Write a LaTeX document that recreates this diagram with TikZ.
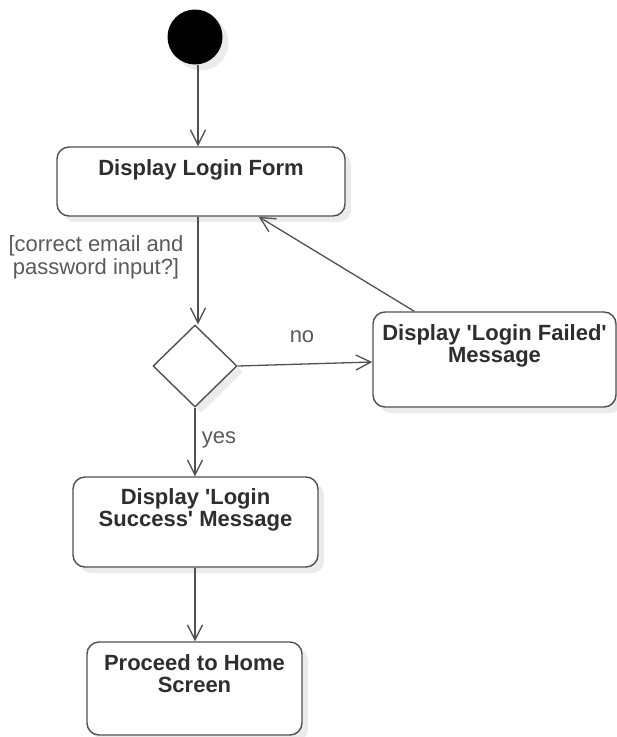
\documentclass[tikz,border=0pt]{standalone}
\usepackage{fontspec}
\setmainfont{Liberation Sans}
\usetikzlibrary{arrows.meta,shapes.geometric,shadows}
\definecolor{edge}{HTML}{505050}
\definecolor{ink}{HTML}{2E2E2E}
\definecolor{note}{HTML}{5A5A5A}
\definecolor{shade}{HTML}{EBEBEB}
\tikzset{
  x=1pt, y=-1pt,
  softshadow/.style={drop shadow={shadow xshift=6pt, shadow yshift=-6pt, fill=shade, opacity=1}},
  action/.style={draw=edge, line width=1.4pt, rounded corners=12pt, fill=white,
    softshadow, inner sep=0pt},
  actiontext/.style={anchor=north, inner sep=0pt, align=center, text=ink,
    font=\fontsize{22}{22.5}\selectfont\bfseries},
  decision/.style={draw=edge, line width=1.4pt, diamond, fill=white, softshadow,
    inner sep=0pt, minimum width=84pt, minimum height=82pt},
  startdot/.style={circle, fill=black, inner sep=0pt, minimum size=55pt,
    drop shadow={shadow xshift=6pt, shadow yshift=-6pt, fill=shade, opacity=1}},
  flow/.style={draw=edge, line width=1.3pt,
    -{Straight Barb[length=15pt,width=15pt,line width=1.3pt]}},
  guard/.style={inner sep=0pt, align=center, text=note,
    font=\fontsize{22}{23}\selectfont},
}
\begin{document}
\begin{tikzpicture}
\useasboundingbox (0,0) rectangle (617,737);

% start point
\node[startdot] (start) at (195,37) {};

% actions
\node[action, minimum width=288pt, minimum height=69pt] (form) at (201,181.5) {};
\node[actiontext] (formtext) at ([yshift=-13pt]form.north) {Display Login Form};

\node[decision] (check) at (195,366) {};

\node[action, minimum width=243pt, minimum height=95pt] (failed) at (494.5,359.5) {};
\node[actiontext] (failedtext) at ([yshift=-13pt]failed.north)
  {Display \textquotesingle Login Failed\textquotesingle\\Message};

\node[action, minimum width=245pt, minimum height=90pt] (success) at (195.5,522) {};
\node[actiontext] (successtext) at ([yshift=-12pt]success.north)
  {Display \textquotesingle Login\\Success\textquotesingle{} Message};

\node[action, minimum width=215pt, minimum height=93pt] (home) at (194.5,688.5) {};
\node[actiontext] (hometext) at ([yshift=-13pt]home.north) {Proceed to Home\\Screen};

% guard and branch labels
\node[guard] (guardtext) at (96,257) {[correct email and\\password input?]};
\node[guard] (notext) at (302,337) {no};
\node[guard] (yestext) at (219,440) {yes};

% control flow
\coordinate (formin) at (form.north -| 198,0);
\coordinate (formout) at (form.south -| 198,0);
\draw[flow] (start.south -| formin) -- (formin);
\draw[flow] (formout) -- (formout |- check.north);
\draw[flow] (check.east) -- ([yshift=-2.5pt]failed.west);
\draw[flow] ([xshift=42pt]failed.north west) -- ([xshift=-87pt]form.south east);
\draw[flow] (check.south) -- (success.north -| check.south);
\draw[flow] (success.south -| check.south) -- (home.north -| check.south);
\end{tikzpicture}
\end{document}
